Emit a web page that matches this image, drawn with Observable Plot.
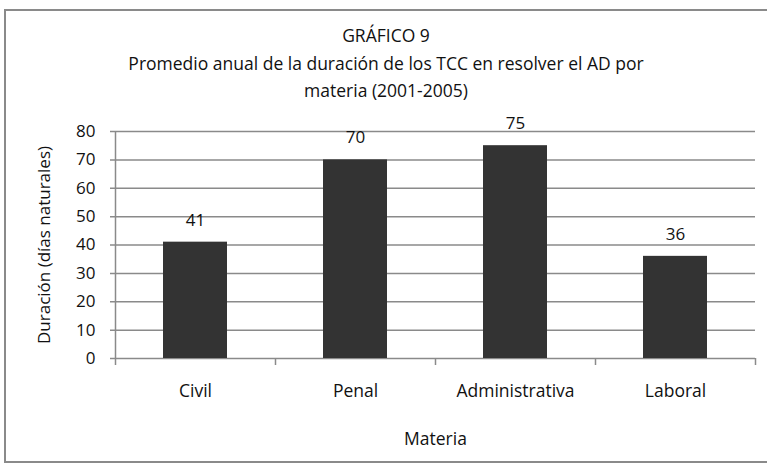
<!DOCTYPE html>
<html>
<head>
<meta charset="utf-8">
<script src="https://cdn.jsdelivr.net/npm/d3@7"></script>
<script src="https://cdn.jsdelivr.net/npm/@observablehq/plot@0.6"></script>
<style>
  body { margin: 0; background: #fff; font-family: "Open Sans", sans-serif; }
  #wrap { position: relative; width: 767px; height: 468px; overflow: hidden; }
  #frame { position: absolute; left: 4px; top: 9px; width: 768px; height: 454px; border: 2px solid #8a8a8a; box-sizing: border-box; }
  .t { position: absolute; left: 6px; width: 760px; text-align: center; font-size: 17.5px; color: #111; line-height: 22px; }
  #chart { position: absolute; left: 0; top: 0; }
</style>
</head>
<body>
<div id="wrap">
  <div id="frame"></div>
  <div id="chart"></div>
  <div class="t" style="top:24px;">GRÁFICO 9</div>
  <div class="t" style="top:52px;">Promedio anual de la duración de los TCC en resolver el AD por</div>
  <div class="t" style="top:79px;">materia (2001-2005)</div>
</div>
<script>
const categories = ["Civil", "Penal", "Administrativa", "Laboral"];
const values = [41, 70, 75, 36];
const yTicks = [0, 10, 20, 30, 40, 50, 60, 70, 80];

const data = categories.map((c, i) => ({materia: c, dur: values[i]}));

const W = 767, ML = 115, MR = 12;
const half = (W - ML - MR) / categories.length / 2;

const chart = Plot.plot({
  width: W,
  height: 468,
  marginLeft: ML,
  marginRight: MR,
  marginTop: 131,
  marginBottom: 110,
  style: {fontFamily: "Open Sans, sans-serif", fontSize: "17px", color: "#111", background: "transparent"},
  x: {domain: categories, padding: 0},
  y: {domain: [0, 80]},
  marks: [
    Plot.ruleY(yTicks, {y: d => d, stroke: "#8a8a8a", strokeWidth: 1.5, insetLeft: -5}),
    Plot.ruleX([0], {x: () => categories[0], dx: -half, y1: 0, y2: 80, stroke: "#8a8a8a", strokeWidth: 1.5}),
    Plot.ruleX(categories, {x: d => d, dx: -half, y1: 0, y2: 0, insetBottom: -7, stroke: "#8a8a8a", strokeWidth: 1.5}),
    Plot.ruleX([categories[categories.length - 1]], {x: d => d, dx: half, y1: 0, y2: 0, insetBottom: -7, stroke: "#8a8a8a", strokeWidth: 1.5}),
    Plot.barY(data, {x: "materia", y: "dur", fill: "#333333", insetLeft: 48, insetRight: 48}),
    Plot.text(data, {x: "materia", y: "dur", text: d => String(d.dur), dy: -22, fontSize: 17, fill: "#111"}),
    Plot.axisY(yTicks, {tickSize: 0, tickPadding: 20, fontSize: 17, label: "Duración (días naturales)", labelAnchor: "center", labelOffset: 78, labelArrow: "none"}),
    Plot.axisX({tickSize: 0, tickPadding: 26, fontSize: 17.5, label: "Materia", labelAnchor: "center", labelOffset: 86, labelArrow: "none"})
  ]
});
document.getElementById("chart").appendChild(chart);
</script>
</body>
</html>
